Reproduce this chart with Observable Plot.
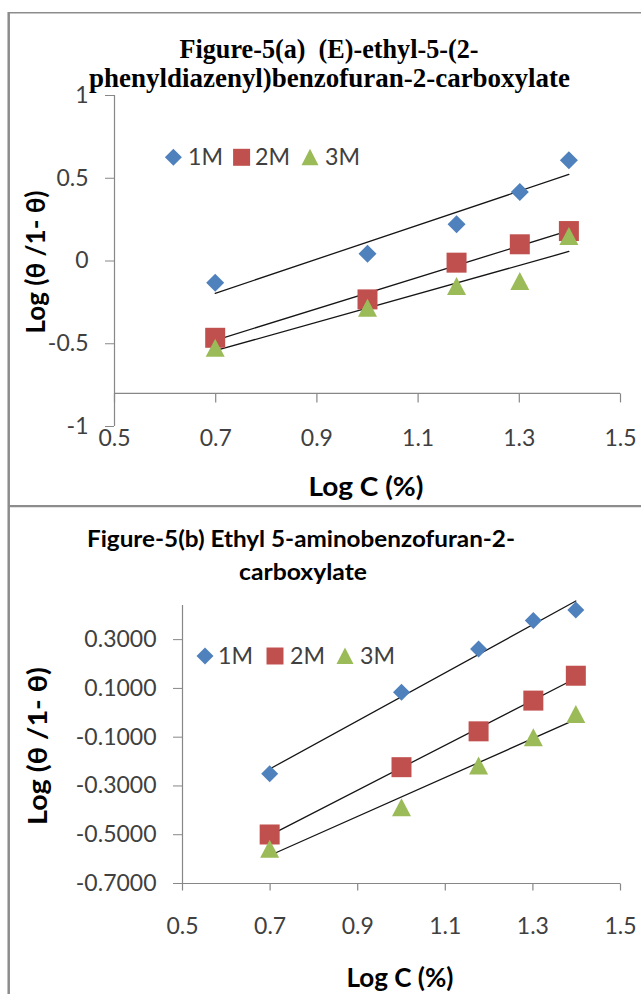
<!DOCTYPE html>
<html><head><meta charset="utf-8">
<script src="https://cdn.jsdelivr.net/npm/d3@7"></script>
<script src="https://cdn.jsdelivr.net/npm/@observablehq/plot@0.6"></script>
<style>
html,body{margin:0;padding:0;background:#fff;}
#page{position:relative;width:641px;height:994px;overflow:hidden;background:#fff;}
#page > svg{position:absolute;left:0;}
</style></head>
<body><div id="page"></div>
<script>
// ---------- data ----------
const logC = [0.699, 1.0, 1.176, 1.301, 1.398];
const seriesNames = ["1M", "2M", "3M"];
// Figure-5(a)
const a1M = [-0.131, 0.044, 0.222, 0.417, 0.609];
const a2M = [-0.464, -0.232, -0.010, 0.101, 0.181];
const a3M = [-0.524, -0.282, -0.151, -0.121, 0.151];
// Figure-5(b)
const b1M = [-0.250, 0.084, 0.262, 0.378, 0.422];
const b2M = [-0.499, -0.223, -0.076, 0.050, 0.152];
const b3M = [-0.558, -0.387, -0.216, -0.100, -0.005];
const xTicks = [0.5, 0.7, 0.9, 1.1, 1.3, 1.5];
const yTicksA = [-1, -0.5, 0, 0.5, 1];
const yTicksB = [-0.7, -0.5, -0.3, -0.1, 0.1, 0.3];
const titleA = ["Figure-5(a)  (E)-ethyl-5-(2-", "phenyldiazenyl)benzofuran-2-carboxylate"];
const titleB = ["Figure-5(b) Ethyl 5-aminobenzofuran-2-", "carboxylate"];
const xLabel = "Log C (%)";
const yLabel = "Log (θ /1- θ)";

// ---------- style ----------
const colors = {"1M": "#4F81BD", "2M": "#C0504D", "3M": "#9BBB59"};
const axisGray = "#878787";
const textGray = "#404040";
const W = 641;

function diamond(h) { return {draw(c) { c.moveTo(0, -h); c.lineTo(h, 0); c.lineTo(0, h); c.lineTo(-h, 0); c.closePath(); }}; }
function square(h) { return {draw(c) { c.moveTo(-h, -h); c.lineTo(h, -h); c.lineTo(h, h); c.lineTo(-h, h); c.closePath(); }}; }
function triangle(w, h) { return {draw(c) { c.moveTo(0, -h); c.lineTo(w, h); c.lineTo(-w, h); c.closePath(); }}; }
function tickDown(len) { return {draw(c) { c.moveTo(0, 0); c.lineTo(0, len); }}; }

function makeChart(cfg) {
  const rows = cfg.series.flatMap(s => logC.map((x, i) => ({x, y: s.values[i], s: s.name})));
  const marks = [
    Plot.ruleX([0.5], {stroke: axisGray, strokeWidth: 1.2}),
    Plot.ruleY([cfg.xCross], {stroke: axisGray, strokeWidth: 1.2}),
    Plot.dot(xTicks, {x: d => d, y: () => cfg.xCross, symbol: tickDown(cfg.xTickLen), stroke: axisGray, strokeWidth: 1.2, fill: "none"}),
    Plot.axisY({ticks: cfg.yTicks, tickSize: 9, tickPadding: cfg.yPad, tickFormat: cfg.yFmt, stroke: axisGray, fill: textGray, fontSize: 23, label: null}),
    Plot.axisX({ticks: xTicks, tickSize: 0, tickPadding: cfg.xPad, tickFormat: d => d.toFixed(1), fill: textGray, fontSize: 23, label: null})
  ];
  for (const s of cfg.series) {
    marks.push(Plot.linearRegressionY(rows.filter(r => r.s === s.name), {x: "x", y: "y", ci: 0, stroke: "#151515", strokeWidth: 1.3}));
  }
  for (const s of cfg.series) {
    marks.push(Plot.dot(rows.filter(r => r.s === s.name), {x: "x", y: "y", symbol: cfg.symbols[s.name], fill: colors[s.name], stroke: "none"}));
  }
  const svg = Plot.plot({
    width: W, height: cfg.height,
    marginLeft: cfg.ml, marginRight: 21, marginTop: cfg.mt, marginBottom: cfg.mb,
    x: {domain: [0.5, 1.5]},
    y: {domain: cfg.yDomain},
    marks,
    style: {fontFamily: "Lato, 'Open Sans', sans-serif", background: "transparent", overflow: "visible"}
  });
  svg.style.top = cfg.top + "px";
  return svg;
}

const page = document.getElementById("page");
page.appendChild(makeChart({
  top: 0, height: 470, ml: 114, mt: 95, mb: 44,
  yDomain: [-1, 1], yTicks: yTicksA, yFmt: d => String(d), yPad: 17,
  xCross: -0.8, xTickLen: 9, xPad: 3,
  series: [{name: "1M", values: a1M}, {name: "2M", values: a2M}, {name: "3M", values: a3M}],
  symbols: {"1M": diamond(9), "2M": square(10), "3M": triangle(9.5, 9)}
}));
page.appendChild(makeChart({
  top: 506, height: 488, ml: 182, mt: 99, mb: 111,
  yDomain: [-0.7, 0.44], yTicks: yTicksB, yFmt: d => d.toFixed(4), yPad: 17,
  xCross: -0.7, xTickLen: 7, xPad: 34,
  series: [{name: "1M", values: b1M}, {name: "2M", values: b2M}, {name: "3M", values: b3M}],
  symbols: {"1M": diamond(8.5), "2M": square(10), "3M": triangle(9.5, 9)}
}));

// ---------- overlay: frame, titles, axis titles, legends ----------
const NS = "http://www.w3.org/2000/svg";
const ov = document.createElementNS(NS, "svg");
ov.setAttribute("width", W); ov.setAttribute("height", 994);
ov.style.top = "0px"; ov.style.pointerEvents = "none";
page.appendChild(ov);
function el(tag, attrs, text) {
  const e = document.createElementNS(NS, tag);
  for (const k in attrs) e.setAttribute(k, attrs[k]);
  if (text != null) e.textContent = text;
  ov.appendChild(e); return e;
}
// frame
el("line", {x1: 8.7, y1: 12, x2: 8.7, y2: 994, stroke: "#8c8c8c", "stroke-width": 2.5});
el("line", {x1: 8, y1: 12.8, x2: 641, y2: 12.8, stroke: "#8c8c8c", "stroke-width": 1.6});
el("line", {x1: 8, y1: 506.2, x2: 641, y2: 506.2, stroke: "#8c8c8c", "stroke-width": 2.3});

// titles
const serif = "'Liberation Serif', 'Times New Roman', serif";
const sans = "Lato, 'Open Sans', sans-serif";
function txt(x, y, s, font, size, weight, len, fill, extra) {
  const a = {x, y, "font-family": font, "font-size": size, "font-weight": weight, "text-anchor": "middle", fill, style: "white-space:pre"};
  if (len) { a.textLength = len; a.lengthAdjust = "spacingAndGlyphs"; }
  return el("text", Object.assign(a, extra || {}), s);
}
txt(329, 57.5, titleA[0], serif, 26.5, 700, 299, "#000");
txt(329.5, 86.5, titleA[1], serif, 26.5, 700, 481, "#000");
txt(301, 547, titleB[0], sans, 22.5, 700, 428, "#000");
txt(303, 580, titleB[1], sans, 22.5, 700, 128, "#000");

// axis titles
txt(366, 496, xLabel, sans, 27, 700, 115, "#000");
txt(400, 987, xLabel, sans, 26, 700, 107, "#000");
txt(0, 0, yLabel, sans, 26, 700, 143, "#000", {transform: "translate(45,262) rotate(-90)"});
txt(0, 0, yLabel, sans, 26, 700, 158, "#000", {transform: "translate(46.5,746) rotate(-90)"});

// legends
function legend(cy, items) {
  const shapes = {
    "1M": (x) => `M${x},${cy - 8.5}L${x + 8.5},${cy}L${x},${cy + 8.5}L${x - 8.5},${cy}Z`,
    "2M": (x) => `M${x - 8.5},${cy - 8.5}H${x + 8.5}V${cy + 8.5}H${x - 8.5}Z`,
    "3M": (x) => `M${x},${cy - 8.5}L${x + 8.5},${cy + 8}L${x - 8.5},${cy + 8}Z`
  };
  seriesNames.forEach((n, i) => {
    const it = items[i];
    el("path", {d: shapes[n](it.sx), fill: colors[n]});
    el("text", {x: it.tx, y: cy + 8, "font-family": sans, "font-size": 23, fill: textGray, textLength: 35, lengthAdjust: "spacingAndGlyphs"}, n);
  });
}
legend(157.3, [{sx: 173.4, tx: 188}, {sx: 241.6, tx: 255}, {sx: 310, tx: 325}]);
legend(656, [{sx: 205, tx: 218}, {sx: 275, tx: 290}, {sx: 345, tx: 360}]);
</script>
</body></html>
